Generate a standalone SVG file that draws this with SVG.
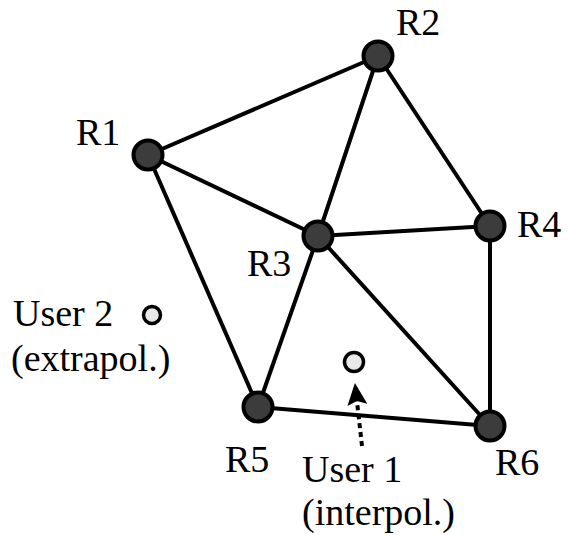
<svg xmlns="http://www.w3.org/2000/svg" width="569" height="535" viewBox="0 0 569 535">
<style>
.edge{stroke:#000;stroke-width:4;fill:none}
.router{fill:#3c3c3c;stroke:#000;stroke-width:4}
.user{fill:#e8e8e8;stroke:#000;stroke-width:3.5}
.lbl{font-family:"Liberation Serif","Times New Roman",serif;font-size:38px;fill:#000}
.dots{stroke:#000;stroke-width:4;stroke-dasharray:5 4;fill:none}
</style>
<defs>
<marker id="ah" markerWidth="22" markerHeight="20" refX="21" refY="10" orient="auto" markerUnits="userSpaceOnUse">
<polygon points="0,0 22,10 0,20 4,10" fill="#000"/>
</marker>
</defs>
<g id="connectors">
<line class="edge" x1="148" y1="155" x2="378" y2="56"/>
<line class="edge" x1="148" y1="155" x2="318" y2="236"/>
<line class="edge" x1="148" y1="155" x2="258" y2="407"/>
<line class="edge" x1="378" y1="56" x2="318" y2="236"/>
<line class="edge" x1="378" y1="56" x2="490" y2="226"/>
<line class="edge" x1="318" y1="236" x2="490" y2="226"/>
<line class="edge" x1="318" y1="236" x2="258" y2="407"/>
<line class="edge" x1="318" y1="236" x2="490" y2="426"/>
<line class="edge" x1="490" y1="226" x2="490" y2="426"/>
<line class="edge" x1="258" y1="407" x2="490" y2="426"/>
<line class="dots" x1="362" y1="446" x2="355" y2="384" marker-end="url(#ah)"/>
</g>
<g id="R1"><circle class="router" cx="148" cy="155" r="14.5"/><text class="lbl" x="76" y="145">R1</text></g>
<g id="R2"><circle class="router" cx="378" cy="56" r="14.5"/><text class="lbl" x="396" y="35">R2</text></g>
<g id="R3"><circle class="router" cx="318" cy="236" r="14.5"/><text class="lbl" x="247" y="276">R3</text></g>
<g id="R4"><circle class="router" cx="490" cy="226" r="14.5"/><text class="lbl" x="517" y="237">R4</text></g>
<g id="R5"><circle class="router" cx="258" cy="407" r="14.5"/><text class="lbl" x="225" y="472">R5</text></g>
<g id="R6"><circle class="router" cx="490" cy="426" r="14.5"/><text class="lbl" x="495" y="475">R6</text></g>
<g id="User1"><circle class="user" cx="354" cy="362" r="9.5"/><text class="lbl" x="302" y="482">User 1</text><text class="lbl" x="302" y="525">(interpol.)</text></g>
<g id="User2"><circle class="user" cx="152" cy="315" r="8.5"/><text class="lbl" x="13" y="326">User 2</text><text class="lbl" x="11" y="371">(extrapol.)</text></g>
</svg>
